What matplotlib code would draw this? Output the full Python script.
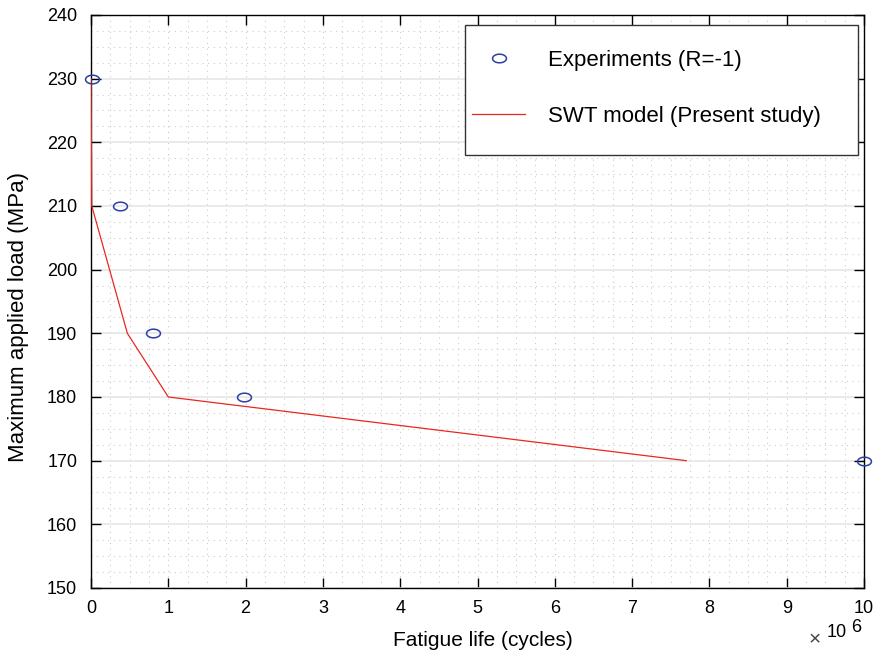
import numpy as np
import matplotlib.pyplot as plt
from matplotlib.path import Path
from matplotlib.patches import Rectangle
from matplotlib.ticker import MultipleLocator

plt.rcParams['font.family'] = ['Liberation Sans', 'DejaVu Sans']

# experimental S-N data (R = -1), cycles in units of 1e6
exp_life = [0.01, 0.375, 0.80, 1.98, 10.0]
exp_load = [230, 210, 190, 180, 170]

# SWT model prediction
swt_life = [0.0, 0.01, 0.47, 1.0, 7.7]
swt_load = [230, 210, 190, 180, 170]

# slightly flattened open circle marker
t = np.linspace(0, 2 * np.pi, 60)
ellipse = Path(np.column_stack([np.cos(t), 0.62 * np.sin(t)]), closed=True)

fig = plt.figure(figsize=(8.82, 6.55), dpi=100)
ax = fig.add_axes([0.1032, 0.1023, 0.8764, 0.8748])

ax.plot(exp_life, exp_load, linestyle='none', marker=ellipse, markersize=10,
        markerfacecolor='none', markeredgecolor='#2b3fa6', markeredgewidth=1.1,
        label='Experiments (R=-1)', clip_on=False, zorder=4)
ax.plot(swt_life, swt_load, color='#e8281e', linewidth=0.9,
        label='SWT model (Present study)', zorder=3)

ax.set_xlim(0, 10)
ax.set_ylim(150, 240)
ax.xaxis.set_major_locator(MultipleLocator(1))
ax.yaxis.set_major_locator(MultipleLocator(10))
ax.xaxis.set_minor_locator(MultipleLocator(0.25))
ax.yaxis.set_minor_locator(MultipleLocator(2.5))

ax.grid(which='major', axis='y', color='#e6e6e6', linewidth=1.2, linestyle='-')
ax.grid(which='major', axis='x', color='#c8c8c8', linewidth=0.8, linestyle=(0, (1, 4)))
ax.grid(which='minor', color='#cccccc', linewidth=0.8, linestyle=(0, (1, 4)))
ax.set_axisbelow(True)

ax.tick_params(which='major', direction='in', length=7, width=1,
               top=True, right=True, labelsize=13)
ax.tick_params(axis='x', pad=9)
ax.tick_params(axis='y', pad=10)
ax.tick_params(which='minor', length=0)
for s in ax.spines.values():
    s.set_linewidth(1.0)

ax.set_xlabel('Fatigue life (cycles)', fontsize=15)
ax.set_ylabel('Maximum applied load (MPa)', fontsize=16)
ax.xaxis.set_label_coords(0.5065, -0.075)
ax.yaxis.set_label_coords(-0.080, 0.473)

# exponent label for the x axis
ax.text(0.9366, -0.0908, '\u00d7', transform=ax.transAxes, fontsize=15, color='#444444',
        ha='center', va='center')
ax.text(0.952, -0.0785, '10', transform=ax.transAxes, fontsize=13, ha='left', va='center')
ax.text(0.983, -0.069, '6', transform=ax.transAxes, fontsize=13, ha='left', va='center')

# legend frame drawn separately so the box can be padded freely
ax.add_patch(Rectangle((0.4838, 0.7557), 0.5084, 0.2268, transform=ax.transAxes,
                       facecolor='white', edgecolor='#333333', linewidth=1.0,
                       zorder=5, clip_on=False))
leg = ax.legend(loc='upper left', bbox_to_anchor=(0.4929, 0.939), fontsize=16,
                frameon=False, labelspacing=1.57, borderpad=0, borderaxespad=0,
                handlelength=2.4, handletextpad=1.0)
leg.set_zorder(6)

fig.savefig('out.png', dpi=100)
